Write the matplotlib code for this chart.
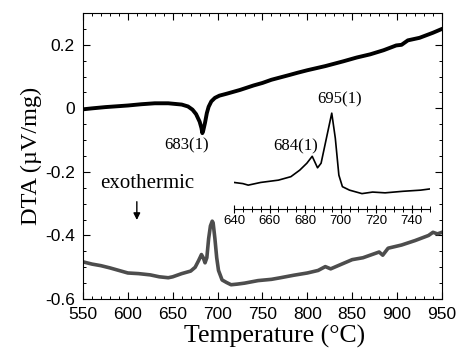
import matplotlib
matplotlib.use("Agg")
import matplotlib.pyplot as plt
from matplotlib.ticker import MultipleLocator

# upper curve (cooling / endothermic dip at 683)
temp_up = [550, 560, 575, 590, 600, 615, 630, 645, 660, 667, 672, 676, 680, 682, 683, 684,
           686, 688, 690, 693, 697, 702, 710, 725, 740, 750, 760, 780, 789, 800, 820, 840,
           855, 870, 885, 899, 905, 912, 925, 940, 950]
dta_up = [-0.003, 0.0, 0.004, 0.007, 0.009, 0.013, 0.016, 0.016, 0.012, 0.006, -0.004, -0.018,
          -0.042, -0.062, -0.078, -0.07, -0.045, -0.015, 0.005, 0.022, 0.033, 0.04, 0.046,
          0.058, 0.072, 0.08, 0.09, 0.105, 0.112, 0.12, 0.133, 0.148, 0.16, 0.17, 0.183,
          0.198, 0.2, 0.214, 0.222, 0.238, 0.25]

# lower curve (exothermic peaks at 684 and 695)
temp_lo = [550, 560, 570, 580, 590, 600, 612, 625, 635, 645, 650, 660, 670, 675, 679, 682,
           684, 686, 688, 690, 692, 694, 695, 697, 699, 701, 705, 710, 715, 722, 730, 745,
           760, 770, 785, 800, 812, 820, 826, 840, 850, 862, 870, 880, 884, 890, 905, 920,
           935, 940, 945, 950]
dta_lo = [-0.483, -0.49, -0.495, -0.502, -0.51, -0.518, -0.52, -0.524, -0.53, -0.533, -0.53,
          -0.52, -0.512, -0.5, -0.478, -0.46, -0.47, -0.486, -0.47, -0.41, -0.37, -0.355,
          -0.36, -0.41, -0.47, -0.51, -0.54, -0.548, -0.555, -0.553, -0.55, -0.542, -0.538,
          -0.533, -0.525, -0.518, -0.51, -0.498, -0.505, -0.488, -0.476, -0.47, -0.462,
          -0.452, -0.462, -0.44, -0.43, -0.416, -0.4, -0.39, -0.395, -0.39]

# inset: zoom of the lower curve
temp_in = [640, 645, 648, 655, 665, 672, 677, 681, 684, 687, 689, 692, 695, 697, 699, 701,
           705, 712, 718, 725, 735, 745, 750]
dta_in = [-0.535, -0.538, -0.542, -0.535, -0.529, -0.520, -0.503, -0.485, -0.467, -0.497,
          -0.485, -0.420, -0.355, -0.420, -0.516, -0.546, -0.555, -0.564, -0.560, -0.562,
          -0.558, -0.555, -0.552]

serif = "Liberation Serif"
sans = "Liberation Sans"

fig = plt.figure(figsize=(4.6, 3.56), dpi=100)
ax = fig.add_axes([0.1804, 0.160, 0.7804, 0.8034])

ax.plot(temp_up, dta_up, color="black", lw=2.8, solid_joinstyle="round")
ax.plot(temp_lo, dta_lo, color="0.3", lw=2.6, solid_joinstyle="round")

ax.set_xlim(550, 950)
ax.set_ylim(-0.6, 0.3)
ax.xaxis.set_major_locator(MultipleLocator(50))
ax.xaxis.set_minor_locator(MultipleLocator(10))
ax.yaxis.set_major_locator(MultipleLocator(0.2))
ax.yaxis.set_minor_locator(MultipleLocator(0.05))
ax.set_yticks([-0.6, -0.4, -0.2, 0, 0.2])
ax.set_yticklabels(["-0.6", "-0.4", "-0.2", "0", "0.2"])
ax.tick_params(which="both", direction="in", top=True, right=True)
ax.tick_params(which="major", length=5, width=0.8, labelsize=12.5, pad=6)
ax.tick_params(which="minor", length=2.5, width=0.7)
for lab in ax.get_xticklabels() + ax.get_yticklabels():
    lab.set_fontfamily(sans)

ax.set_xlabel("Temperature (°C)", fontfamily=serif, fontsize=18.5)
ax.xaxis.set_label_coords(0.535, -0.092)
ax.set_ylabel("DTA (µV/mg)", fontfamily=serif, fontsize=17.5, labelpad=2)

ax.text(665, -0.092, "683(1)", fontfamily=serif, fontsize=12, ha="center", va="top")
ax.text(622, -0.235, "exothermic", fontfamily=serif, fontsize=15, ha="center", va="center")
ax.annotate("", xy=(610, -0.36), xytext=(610, -0.285),
            arrowprops=dict(arrowstyle="-|>", color="black", lw=1, mutation_scale=10))

# inset
axin = fig.add_axes([0.5087, 0.4129, 0.425, 0.306])
axin.plot(temp_in, dta_in, color="black", lw=1.2)
axin.set_xlim(640, 750)
axin.set_ylim(-0.604, -0.321)
for side in ["top", "right", "left"]:
    axin.spines[side].set_visible(False)
axin.patch.set_alpha(0)
axin.set_yticks([])
axin.xaxis.set_major_locator(MultipleLocator(20))
axin.xaxis.set_minor_locator(MultipleLocator(5))
axin.tick_params(which="both", direction="inout")
axin.tick_params(which="major", length=6, width=0.8, labelsize=9.5, pad=1)
axin.tick_params(which="minor", length=4, width=0.7)
for lab in axin.get_xticklabels():
    lab.set_fontfamily(sans)
axin.text(674.5, -0.462, "684(1)", fontfamily=serif, fontsize=12, ha="center", va="bottom")
axin.text(699.5, -0.341, "695(1)", fontfamily=serif, fontsize=12, ha="center", va="bottom")

fig.savefig("out.png", dpi=100)
